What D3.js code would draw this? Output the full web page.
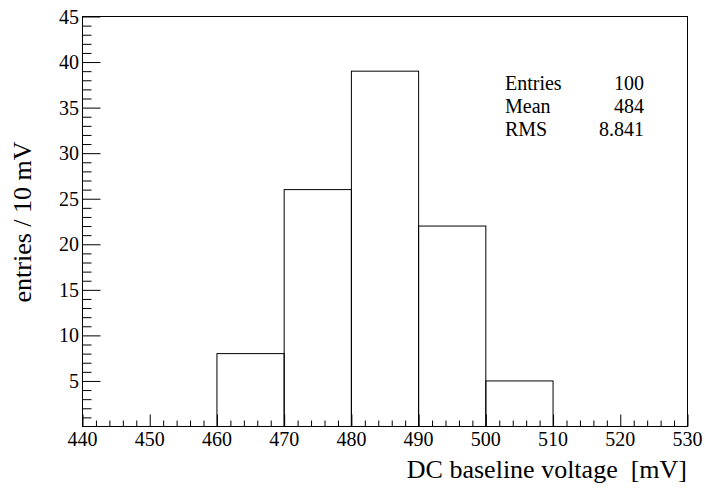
<!DOCTYPE html>
<html>
<head>
<meta charset="utf-8">
<script src="https://cdn.jsdelivr.net/npm/d3@7"></script>
<style>
  html, body { margin: 0; padding: 0; background: #fff; }
  svg { display: block; }
  text { font-family: "Liberation Serif", "Times New Roman", serif; fill: #000; }
</style>
</head>
<body>
<svg id="chart" width="705" height="488"></svg>
<script>
// Histogram of DC baseline voltage, 10 mV bins
const binLow    = [460, 470, 480, 490, 500];
const binCounts = [8, 26, 39, 22, 5];
const binWidth  = 10;

const xTickValues = [440, 450, 460, 470, 480, 490, 500, 510, 520, 530];
const yTickValues = [5, 10, 15, 20, 25, 30, 35, 40, 45];

const statNames  = ["Entries", "Mean", "RMS"];
const statValues = ["100", "484", "8.841"];

const svg = d3.select("#chart");

const frame = { left: 82.5, right: 687.5, top: 16.5, bottom: 426.5 };

const x = d3.scaleLinear().domain([440, 530]).range([frame.left, frame.right]);
const y = d3.scaleLinear().domain([0, 45]).range([frame.bottom, frame.top]);

// Frame box
svg.append("rect")
  .attr("x", frame.left).attr("y", frame.top)
  .attr("width", frame.right - frame.left)
  .attr("height", frame.bottom - frame.top)
  .attr("fill", "none").attr("stroke", "#000").attr("stroke-width", 1);

// Histogram bins as outlined rectangles
svg.append("g").selectAll("rect")
  .data(binLow.map((lo, i) => ({ lo, n: binCounts[i] })))
  .join("rect")
  .attr("x", d => x(d.lo))
  .attr("y", d => y(d.n))
  .attr("width", d => x(d.lo + binWidth) - x(d.lo))
  .attr("height", d => y(0) - y(d.n))
  .attr("fill", "none")
  .attr("stroke", "#000")
  .attr("stroke-width", 1);

// X axis: major ticks every 10, minor every 2, drawn inward (upward)
const xMinor = d3.range(440, 530.001, 2).filter(v => v % 10 !== 0);
const xAxisMajor = d3.axisTop(x).tickValues(xTickValues).tickSize(12).tickFormat("");
const xAxisMinor = d3.axisTop(x).tickValues(xMinor).tickSize(6).tickFormat("");
[xAxisMajor, xAxisMinor].forEach(ax => {
  const g = svg.append("g").attr("transform", `translate(0,${frame.bottom})`).call(ax);
  g.select(".domain").remove();
  g.selectAll("line").attr("stroke", "#000");
});
svg.append("g").selectAll("text")
  .data(xTickValues)
  .join("text")
  .attr("x", d => x(d))
  .attr("y", 446)
  .attr("text-anchor", "middle")
  .attr("font-size", 20)
  .text(d => d);

// Y axis: major ticks every 5, minor every 1, drawn inward (rightward)
const yMinor = d3.range(1, 45, 1).filter(v => v % 5 !== 0);
const yAxisMajor = d3.axisRight(y).tickValues(yTickValues).tickSize(18).tickFormat("");
const yAxisMinor = d3.axisRight(y).tickValues(yMinor).tickSize(9).tickFormat("");
[yAxisMajor, yAxisMinor].forEach(ax => {
  const g = svg.append("g").attr("transform", `translate(${frame.left},0)`).call(ax);
  g.select(".domain").remove();
  g.selectAll("line").attr("stroke", "#000");
});
svg.append("g").selectAll("text")
  .data(yTickValues)
  .join("text")
  .attr("x", 79)
  .attr("y", d => y(d) + 7)
  .attr("text-anchor", "end")
  .attr("font-size", 20)
  .text(d => d);

// Axis titles
svg.append("text")
  .attr("x", 687)
  .attr("y", 478)
  .attr("text-anchor", "end")
  .attr("font-size", 26)
  .style("white-space", "pre")
  .text("DC baseline voltage  [mV]");

svg.append("text")
  .attr("transform", "translate(31,222) rotate(-90)")
  .attr("text-anchor", "middle")
  .attr("font-size", 26)
  .text("entries / 10 mV");

// Statistics box text
const statsY = [90, 113, 136];
svg.append("g").selectAll("text")
  .data(statNames)
  .join("text")
  .attr("x", 505)
  .attr("y", (d, i) => statsY[i])
  .attr("font-size", 20)
  .text(d => d);
svg.append("g").selectAll("text")
  .data(statValues)
  .join("text")
  .attr("x", 644)
  .attr("y", (d, i) => statsY[i])
  .attr("text-anchor", "end")
  .attr("font-size", 20)
  .text(d => d);
</script>
</body>
</html>
